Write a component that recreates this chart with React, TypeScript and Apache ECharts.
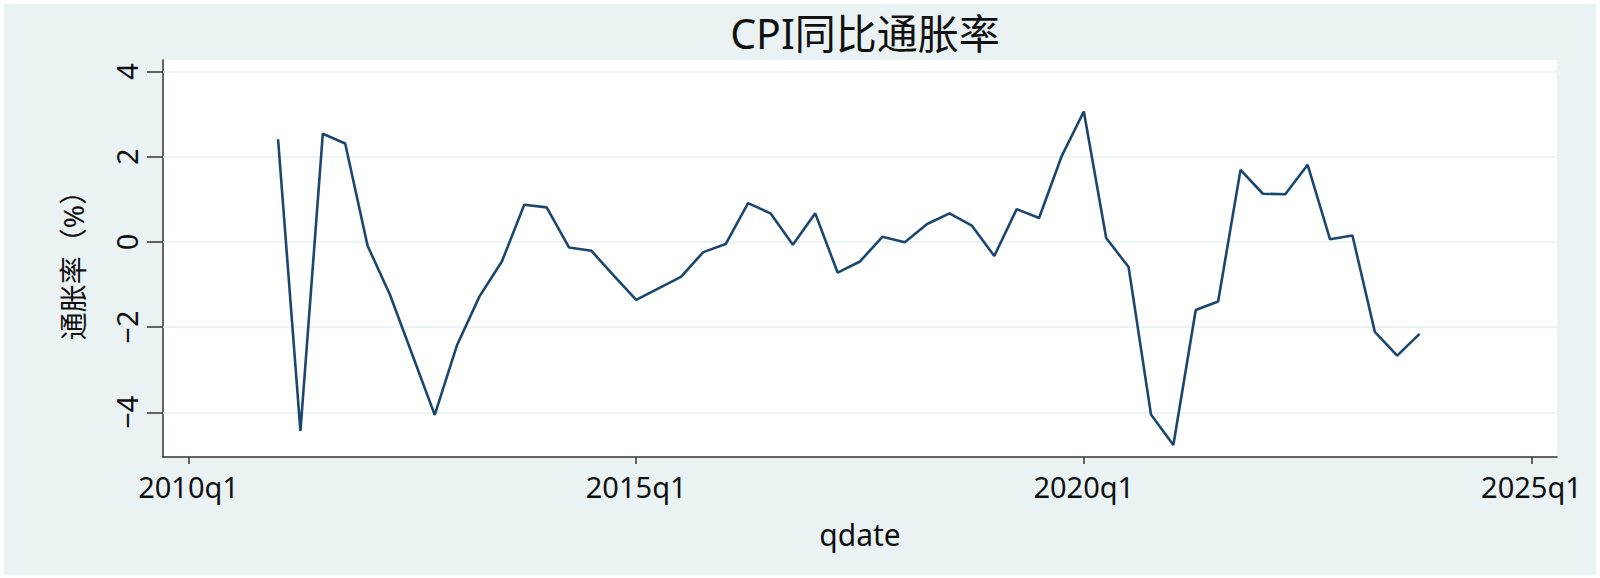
import React, { useEffect, useRef } from "react";
import * as echarts from "echarts";

const chartTitle = "CPI同比通胀率";
const xAxisTitle = "qdate";
const yAxisTitle = "通胀率（%）";

// quarter index 0 = 2010q1
const quarterLabels = [
  "2011q1", "2011q2", "2011q3", "2011q4",
  "2012q1", "2012q2", "2012q3", "2012q4",
  "2013q1", "2013q2", "2013q3", "2013q4",
  "2014q1", "2014q2", "2014q3", "2014q4",
  "2015q1", "2015q2", "2015q3", "2015q4",
  "2016q1", "2016q2", "2016q3", "2016q4",
  "2017q1", "2017q2", "2017q3", "2017q4",
  "2018q1", "2018q2", "2018q3", "2018q4",
  "2019q1", "2019q2", "2019q3", "2019q4",
  "2020q1", "2020q2", "2020q3", "2020q4",
  "2021q1", "2021q2", "2021q3", "2021q4",
  "2022q1", "2022q2", "2022q3", "2022q4",
  "2023q1", "2023q2", "2023q3", "2023q4",
];

const inflation = [
  2.41, -4.44, 2.54, 2.31,
  -0.09, -1.24, -2.65, -4.06,
  -2.42, -1.28, -0.46, 0.87,
  0.81, -0.13, -0.21, -0.79,
  -1.36, -1.09, -0.82, -0.24,
  -0.05, 0.91, 0.67, -0.07,
  0.67, -0.72, -0.46, 0.12,
  -0.01, 0.42, 0.67, 0.38,
  -0.33, 0.77, 0.56, 2.0,
  3.06, 0.09, -0.59, -4.05,
  -4.77, -1.6, -1.4, 1.69,
  1.13, 1.12, 1.81, 0.06,
  0.15, -2.11, -2.67, -2.16,
];

const xTickLabels = ["2010q1", "2015q1", "2020q1", "2025q1"];
const yTickValues = [-4, -2, 0, 2, 4];

function quarterIndex(label: string): number {
  const y = parseInt(label.slice(0, 4), 10);
  const q = parseInt(label.slice(5), 10);
  return (y - 2010) * 4 + (q - 1);
}

const fontFamily = "'Noto Sans', 'Noto Sans CJK SC', sans-serif";

export default function App() {
  const ref = useRef<HTMLDivElement>(null);

  useEffect(() => {
    if (!ref.current) return;
    const chart = echarts.init(ref.current, undefined, { renderer: "svg" });
    const xTickValues = xTickLabels.map(quarterIndex);
    const data = quarterLabels.map((q, i) => [quarterIndex(q), inflation[i]]);
    const fmtNum = (v: number) => (v < 0 ? "\u2212" + Math.abs(v) : String(v));

    chart.setOption({
      animation: false,
      backgroundColor: "#ffffff",
      textStyle: { fontFamily },
      graphic: [
        {
          type: "rect",
          z: -10,
          silent: true,
          shape: { x: 4, y: 4, width: 1592, height: 571 },
          style: { fill: "#EAF2F3" },
        },
      ],
      title: {
        text: chartTitle,
        left: 860,
        textAlign: "center",
        top: 7,
        textStyle: { fontFamily, fontSize: 41, fontWeight: "normal", color: "#111" },
      },
      grid: {
        left: 163,
        right: 43,
        top: 60,
        bottom: 121,
        show: true,
        backgroundColor: "#ffffff",
        borderWidth: 0,
        containLabel: false,
      },
      xAxis: {
        type: "value",
        min: -1.14,
        max: 61.14,
        name: xAxisTitle,
        nameLocation: "middle",
        nameGap: 62,
        nameTextStyle: { fontFamily, fontSize: 30, color: "#111" },
        axisLine: { show: true, onZero: false, lineStyle: { color: "#333", width: 1.5 } },
        axisTick: {
          show: true,
          length: 7,
          customValues: xTickValues,
          lineStyle: { color: "#333", width: 1.5 },
        },
        axisLabel: {
          customValues: xTickValues,
          margin: 15,
          fontFamily,
          fontSize: 29,
          color: "#111",
          formatter: (v: number) => {
            const i = xTickValues.indexOf(Math.round(v));
            return i >= 0 ? xTickLabels[i] : "";
          },
        },
        splitLine: { show: false },
      },
      yAxis: {
        type: "value",
        min: -5.05,
        max: 4.27,
        name: yAxisTitle,
        nameLocation: "middle",
        nameGap: 76,
        nameRotate: 90,
        nameTextStyle: { fontFamily, fontSize: 28, color: "#111" },
        axisLine: { show: true, onZero: false, lineStyle: { color: "#333", width: 1.5 } },
        axisTick: {
          show: true,
          length: 16,
          customValues: yTickValues,
          lineStyle: { color: "#333", width: 1.5 },
        },
        axisLabel: {
          customValues: yTickValues,
          rotate: 90,
          margin: 22,
          fontFamily,
          fontSize: 29,
          color: "#111",
          formatter: (v: number) => fmtNum(v),
        },
        splitLine: { show: true, lineStyle: { color: "#EAF2F3", width: 1.5 } },
      },
      series: [
        {
          type: "line",
          data,
          showSymbol: false,
          symbol: "none",
          lineStyle: { color: "#1A476F", width: 2.6 },
          markLine: {
            silent: true,
            symbol: "none",
            label: { show: false },
            lineStyle: { color: "#EAF2F3", width: 1.5, type: "solid" },
            z: 1,
            data: yTickValues.map((v) => ({ yAxis: v })),
          },
        },
      ],
    });
    return () => chart.dispose();
  }, []);

  return (
    <div
      ref={ref}
      style={{ position: "fixed", left: 0, top: 0, width: 1600, height: 578 }}
    />
  );
}
